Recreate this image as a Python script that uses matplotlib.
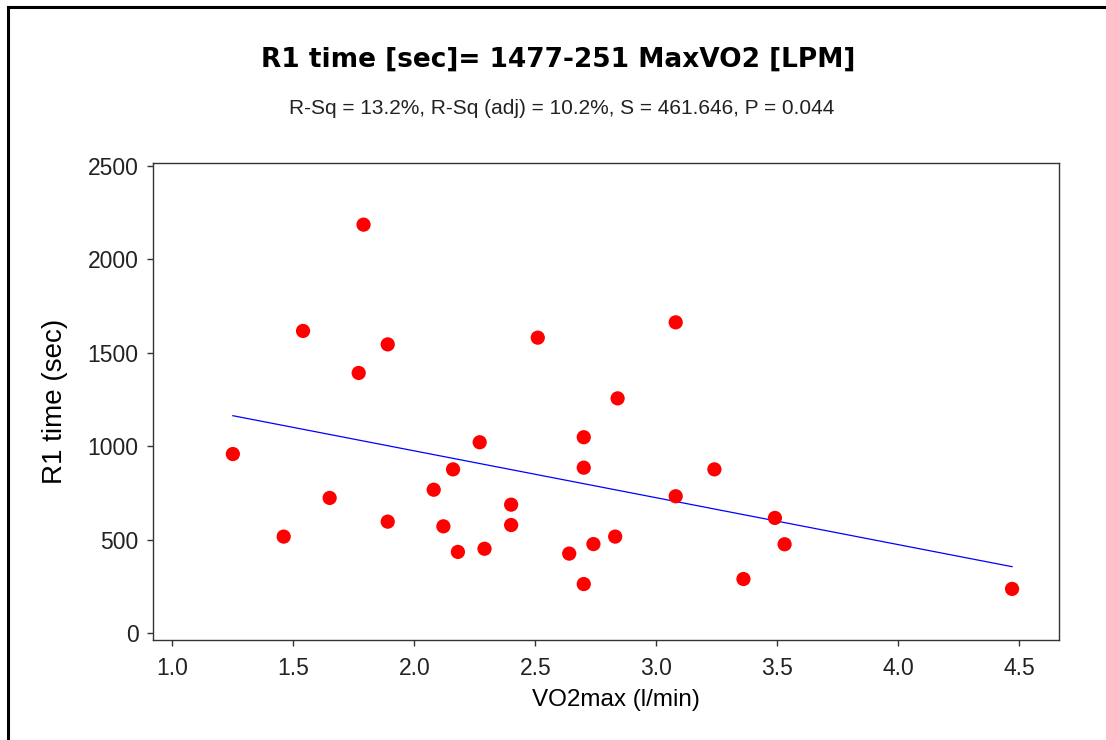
import matplotlib
matplotlib.use("Agg")
import matplotlib.pyplot as plt
from matplotlib.patches import Rectangle
import numpy as np

# data
vo2max = [1.25, 1.46, 1.54, 1.65, 1.77, 1.79, 1.89, 1.89, 2.08, 2.12,
          2.16, 2.18, 2.27, 2.29, 2.40, 2.40, 2.51, 2.64, 2.70, 2.70,
          2.70, 2.74, 2.83, 2.84, 3.08, 3.08, 3.24, 3.36, 3.49, 3.53, 4.47]
r1_time = [958, 516, 1617, 723, 1392, 2186, 1545, 596, 767, 571,
           876, 434, 1021, 451, 687, 578, 1581, 425, 1048, 885,
           262, 476, 516, 1256, 1663, 732, 876, 289, 616, 475, 236]

intercept = 1477
slope = -251

x_ticks = [1.0, 1.5, 2.0, 2.5, 3.0, 3.5, 4.0, 4.5]
y_ticks = [0, 500, 1000, 1500, 2000, 2500]

title = "R1 time [sec]= 1477-251 MaxVO2 [LPM]"
subtitle = "R-Sq = 13.2%, R-Sq (adj) = 10.2%, S = 461.646, P = 0.044"

W, H = 1106, 740
fig = plt.figure(figsize=(W / 100, H / 100), dpi=100)

# axes box in pixels: left 153, right 1059, top 163, bottom 640
ax = fig.add_axes([153 / W, 1 - 640 / H, (1059 - 153) / W, (640 - 163) / H])

fit_x = np.array([min(vo2max), max(vo2max)])
ax.plot(fit_x, intercept + slope * fit_x, color="#0000FF", lw=0.9, zorder=2)
ax.scatter(vo2max, r1_time, s=105, color="#FF0000", edgecolors="none", zorder=3)

ax.set_xlim(0.920, 4.664)
ax.set_ylim(-37.5, 2516)
ax.set_xticks(x_ticks)
ax.set_xticklabels([f"{v:.1f}" for v in x_ticks])
ax.set_yticks(y_ticks)

for s in ax.spines.values():
    s.set_color("#333333")
    s.set_linewidth(1.0)
ax.tick_params(direction="out", length=4.5, width=1.0, color="#333333",
               labelsize=16.5, labelcolor="#222222")
ax.tick_params(axis="x", pad=8)
ax.tick_params(axis="y", pad=6)
for lab in ax.get_xticklabels() + ax.get_yticklabels():
    lab.set_family("Liberation Sans")

ax.set_xlabel("VO2max (l/min)", fontsize=17.5, family="Liberation Sans", va="top")
ax.xaxis.set_label_coords((616 - 153) / 906, -(689 - 640) / 477)
ax.set_ylabel("R1 time (sec)", fontsize=20, family="Liberation Sans", va="center")
ax.yaxis.set_label_coords(-(153 - 55) / 906, 0.5)

fig.text(558 / W, 1 - 60 / H, title, ha="center", va="center",
         fontsize=19, fontweight="bold", family="DejaVu Sans")
fig.text(562 / W, 1 - 108 / H, subtitle, ha="center", va="center",
         fontsize=15, family="Liberation Sans", color="#222222")

# outer frame, only top and left edges fall inside the picture
fig.patches.append(Rectangle((8 / W, -0.1), 1.2, 1 - 7 / H + 0.1,
                             transform=fig.transFigure, fill=False,
                             edgecolor="black", linewidth=2.2))

fig.savefig("out.png", dpi=100)
